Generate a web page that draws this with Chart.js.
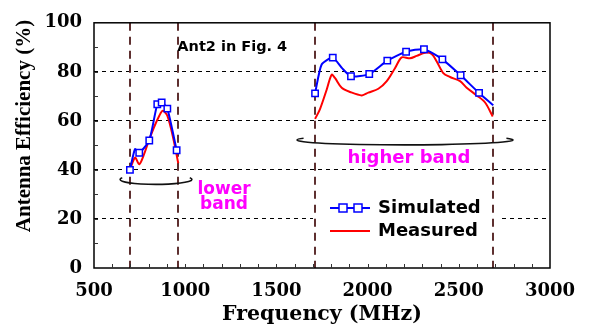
<!DOCTYPE html>
<html>
<head>
<meta charset="utf-8">
<script src="https://cdn.jsdelivr.net/npm/chart.js@4.4.0/dist/chart.umd.min.js"></script>
<style>
  html, body { margin: 0; padding: 0; background: #fff; }
  #wrap { width: 590px; height: 331px; }
</style>
</head>
<body>
<div id="wrap"><canvas id="effChart" width="590" height="331"></canvas></div>
<script>
// Simulated efficiency (MHz, %) - lower and higher band
const simLowFreq = [697, 725, 748, 803, 847, 871, 902, 953];
const simLowEff = [40, 48.5, 47, 52, 66.8, 67.5, 65, 48];
const simLowMark = [true, false, true, true, true, true, true, true];
const simHighFreq = [1712, 1748, 1809, 1860, 1909, 2009, 2108, 2211, 2309, 2410, 2510, 2611, 2689];
const simHighEff = [71.2, 83, 85.8, 81.5, 78.2, 79.1, 84.6, 88.2, 89.2, 85.1, 78.6, 71.4, 66.4];
const simHighMark = [true, false, true, false, true, true, true, true, true, true, true, true, false];

// Measured efficiency
const measLowFreq = [694, 725, 748, 774, 798, 829, 858, 877, 902, 935, 962];
const measLowEff = [39.4, 45, 42.3, 46.3, 51.4, 57.4, 62.1, 64.1, 62.1, 52.7, 42.7];
const measHighFreq = [1712, 1739, 1776, 1803, 1821, 1858, 1904, 1968, 2004, 2059, 2105, 2150, 2187, 2232, 2269, 2315, 2351, 2379, 2415, 2452, 2507, 2543, 2598, 2644, 2686];
const measHighEff = [60.8, 64.8, 72.8, 78.8, 77.5, 73.5, 71.8, 70.4, 71.5, 73.1, 76.2, 81.5, 85.9, 85.5, 86.5, 87.8, 87.3, 84.2, 79.5, 77.9, 76.2, 73.5, 70.4, 67.5, 61.8];

const xTicks = [500, 1000, 1500, 2000, 2500, 3000];
const yTicks = [0, 20, 40, 60, 80, 100];
const bandEdges = [698, 960, 1710, 2690];

function joinBands(fLow, eLow, fHigh, eHigh) {
    const pts = fLow.map((f, i) => ({ x: f, y: eLow[i] }));
    pts.push({ x: (fLow[fLow.length - 1] + fHigh[0]) / 2, y: null });
    return pts.concat(fHigh.map((f, i) => ({ x: f, y: eHigh[i] })));
}

const simPoints = joinBands(simLowFreq, simLowEff, simHighFreq, simHighEff);
const simMarks = simLowMark.concat([false], simHighMark);
const measPoints = joinBands(measLowFreq, measLowEff, measHighFreq, measHighEff);

const serif = 'DejaVu Serif';
const sans = 'DejaVu Sans';

const decorPlugin = {
    id: 'decor',
    beforeDatasetsDraw(chart) {
        const ctx = chart.ctx;
        const area = chart.chartArea;
        const xs = chart.scales.x;
        ctx.save();
        // legend background hides the grid lines behind it
        ctx.fillStyle = '#fff';
        ctx.fillRect(313, 193, 186, 52);
        // band edge markers
        ctx.strokeStyle = '#5e3030';
        ctx.lineWidth = 2;
        ctx.setLineDash([8, 6]);
        bandEdges.forEach(f => {
            const px = Math.round(xs.getPixelForValue(f));
            ctx.beginPath();
            ctx.moveTo(px, area.top);
            ctx.lineTo(px, area.bottom);
            ctx.stroke();
        });
        ctx.restore();
    },
    afterDraw(chart) {
        const ctx = chart.ctx;
        const area = chart.chartArea;
        const xs = chart.scales.x;
        const ys = chart.scales.y;
        ctx.save();

        // frame
        ctx.strokeStyle = '#000';
        ctx.lineWidth = 1.5;
        ctx.strokeRect(area.left, area.top, area.right - area.left, area.bottom - area.top);

        // minor ticks, pointing inward
        ctx.lineWidth = 1;
        ctx.strokeStyle = '#333';
        for (let f = 600; f < 3000; f += 100) {
            const px = Math.round(xs.getPixelForValue(f)) + 0.5;
            ctx.beginPath();
            ctx.moveTo(px, area.bottom);
            ctx.lineTo(px, area.bottom - 4);
            ctx.stroke();
        }
        for (let v = 10; v < 100; v += 10) {
            const py = Math.round(ys.getPixelForValue(v)) + 0.5;
            ctx.beginPath();
            ctx.moveTo(area.left, py);
            ctx.lineTo(area.left + 4, py);
            ctx.stroke();
        }

        // axis titles
        ctx.fillStyle = '#000';
        ctx.textAlign = 'center';
        ctx.textBaseline = 'alphabetic';
        ctx.font = 'bold 20.5px "' + serif + '"';
        ctx.fillText('Frequency (MHz)', (area.left + area.right) / 2, 320);
        ctx.save();
        ctx.translate(25, 126);
        ctx.rotate(-Math.PI / 2);
        ctx.textBaseline = 'middle';
        ctx.font = 'bold 21px "Liberation Serif"';
        ctx.fillText('Antenna Efficiency (%)', 0, 0);
        ctx.restore();

        // band braces
        ctx.strokeStyle = '#111';
        ctx.lineWidth = 1.6;
        [[840, 36.1, 197], [2205, 52.2, 592]].forEach(([f, v, span]) => {
            const cx = xs.getPixelForValue(f);
            const cy = ys.getPixelForValue(v);
            const rx = xs.getPixelForValue(f + span) - cx;
            const ry = ys.getPixelForValue(v) - ys.getPixelForValue(v + 2);
            ctx.beginPath();
            ctx.ellipse(cx, cy, rx, ry, 0, -0.35, Math.PI + 0.35);
            ctx.stroke();
        });

        // annotations
        ctx.textAlign = 'center';
        ctx.textBaseline = 'middle';
        ctx.fillStyle = '#000';
        ctx.font = 'bold 14.5px "' + sans + '"';
        ctx.fillText('Ant2 in Fig. 4', xs.getPixelForValue(1258), ys.getPixelForValue(90));
        ctx.fillStyle = '#ff00ff';
        ctx.font = 'bold 17px "' + sans + '"';
        ctx.fillText('lower', xs.getPixelForValue(1213), ys.getPixelForValue(32.1));
        ctx.fillText('band', xs.getPixelForValue(1213), ys.getPixelForValue(25.7));
        ctx.font = 'bold 18px "' + sans + '"';
        ctx.fillText('higher band', xs.getPixelForValue(2227), ys.getPixelForValue(44.6));

        // legend
        const sim = chart.data.datasets[0];
        const meas = chart.data.datasets[1];
        ctx.lineWidth = 2;
        ctx.strokeStyle = sim.borderColor;
        ctx.beginPath();
        ctx.moveTo(330, 208);
        ctx.lineTo(370, 208);
        ctx.stroke();
        ctx.lineWidth = 1.5;
        [343, 358].forEach(mx => {
            ctx.fillStyle = '#fff';
            ctx.fillRect(mx - 4, 204, 8, 8);
            ctx.strokeRect(mx - 4, 204, 8, 8);
        });
        ctx.lineWidth = 2;
        ctx.strokeStyle = meas.borderColor;
        ctx.beginPath();
        ctx.moveTo(330, 231);
        ctx.lineTo(370, 231);
        ctx.stroke();
        ctx.fillStyle = '#000';
        ctx.textAlign = 'left';
        ctx.font = 'bold 18px "' + sans + '"';
        ctx.fillText(sim.label, 378, 208);
        ctx.fillText(meas.label, 378, 231);

        ctx.restore();
    }
};

new Chart(document.getElementById('effChart'), {
    type: 'line',
    data: {
        datasets: [{
            label: 'Simulated',
            data: simPoints,
            borderColor: '#0000ff',
            borderWidth: 2,
            tension: 0.2,
            spanGaps: false,
            pointStyle: 'rect',
            pointRadius: ctx => simMarks[ctx.dataIndex] ? 4.5 : 0,
            pointBorderWidth: 1.5,
            pointBorderColor: '#0000ff',
            pointBackgroundColor: '#fff'
        }, {
            label: 'Measured',
            data: measPoints,
            borderColor: '#ff0000',
            borderWidth: 2,
            tension: 0.3,
            spanGaps: false,
            pointRadius: 0
        }]
    },
    options: {
        responsive: false,
        animation: false,
        layout: { padding: { top: 19, right: 40, left: 0, bottom: 0 } },
        plugins: {
            legend: { display: false },
            tooltip: { enabled: false }
        },
        scales: {
            x: {
                type: 'linear',
                min: 500,
                max: 3000,
                afterBuildTicks: scale => { scale.ticks = xTicks.map(v => ({ value: v })); },
                afterFit: scale => { scale.height = 63; },
                grid: { display: false, drawTicks: false },
                border: { display: false },
                ticks: {
                    padding: 13,
                    color: '#000',
                    callback: v => String(v),
                    font: { family: serif, size: 18, weight: 'bold' }
                }
            },
            y: {
                min: 0,
                max: 100,
                afterBuildTicks: scale => { scale.ticks = yTicks.map(v => ({ value: v })); },
                afterFit: scale => { scale.width = 94; },
                grid: {
                    drawTicks: false,
                    lineWidth: 1,
                    color: ctx => (ctx.tick && (ctx.tick.value === 0 || ctx.tick.value === 100)) ? 'rgba(0,0,0,0)' : '#000'
                },
                border: { display: false, dash: [4, 4] },
                ticks: {
                    padding: 12,
                    color: '#000',
                    callback: v => String(v),
                    font: { family: serif, size: 18, weight: 'bold' }
                }
            }
        }
    },
    plugins: [decorPlugin]
});
</script>
</body>
</html>
